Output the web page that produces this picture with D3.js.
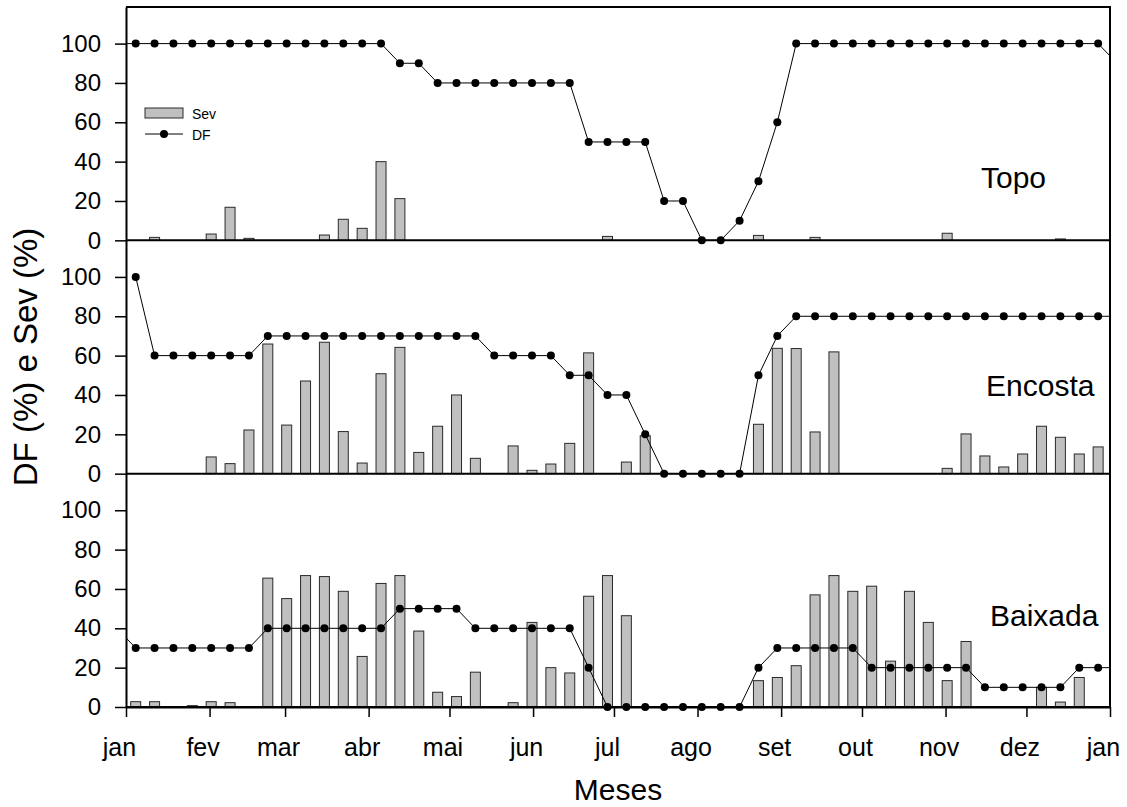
<!DOCTYPE html>
<html>
<head>
<meta charset="utf-8">
<script src="https://cdn.jsdelivr.net/npm/d3@7"></script>
<style>
body { margin: 0; background: #fff; }
text { font-family: "Liberation Sans", Arial, sans-serif; fill: #000; }
</style>
</head>
<body>
<div id="chart"></div>
<script>
// month ticks (day of year) and labels
var meses = ["jan","fev","mar","abr","mai","jun","jul","ago","set","out","nov","dez","jan"];
var diasMes = [0,31,59,90,120,151,181,212,243,273,304,334,365];
var yTicks = [0,20,40,60,80,100];

// weekly evaluations (day of year); first and last fall outside the year
var dias = [-3.4,3.6,10.6,17.6,24.6,31.6,38.6,45.6,52.6,59.6,66.6,73.6,80.6,87.6,94.6,101.6,
  108.6,115.6,122.6,129.6,136.6,143.6,150.6,157.6,164.6,171.6,178.6,185.6,192.6,199.6,206.6,
  213.6,220.6,227.6,234.6,241.6,248.6,255.6,262.6,269.6,276.6,283.6,290.6,297.6,304.6,311.6,
  318.6,325.6,332.6,339.6,346.6,353.6,360.6,367.6];

var dfTopo = [100,100,100,100,100,100,100,100,100,100,100,100,100,100,100,90,90,80,80,80,80,80,80,80,80,
  50,50,50,50,20,20,0,0,10,30,60,100,100,100,100,100,100,100,100,100,100,100,100,100,100,100,100,100,90];
var sevTopo = [null,0,1.5,0,0,3.2,16.8,1,0,0,0,2.7,10.7,6.1,40,21.2,0,0,0,0,0,0,0,0,0,0,2,0,0,0,0,0,0,0,2.5,
  0,0,1.5,0,0,0,0,0,0,3.6,0,0,0,0,0,0.7,0,0,null];

var dfEncosta = [null,100,60,60,60,60,60,60,70,70,70,70,70,70,70,70,70,70,70,70,60,60,60,60,50,50,40,40,20,
  0,0,0,0,0,50,70,80,80,80,80,80,80,80,80,80,80,80,80,80,80,80,80,80,80];
var sevEncosta = [null,0,0,0,0,8.5,5.1,22.2,65.9,24.7,47.1,66.8,21.4,5.4,50.8,64.2,10.8,24.1,40,7.8,0,14.1,
  1.7,4.9,15.4,61.4,0,5.9,19.3,0,0,0,0,0,25.1,63.7,63.6,21.2,61.9,0,0,0,0,0,2.7,20.2,9,3.4,10,24.1,18.5,10,13.6,null];

var dfBaixada = [40,30,30,30,30,30,30,30,40,40,40,40,40,40,40,50,50,50,50,40,40,40,40,40,40,20,0,0,0,0,0,0,0,0,
  20,30,30,30,30,30,20,20,20,20,20,20,10,10,10,10,10,20,20,20];
var sevBaixada = [null,2.7,2.7,0,0.7,2.7,2.2,0,65.5,55.1,66.8,66.3,58.8,25.7,62.8,66.8,38.6,7.5,5.3,17.7,0,2.2,
  43,20,17.3,56.3,66.8,46.4,0,0,0,0,0,0,13.4,15,21,57,66.8,58.8,61.4,23.3,58.8,43,13.4,33.3,0,0,0,10,2.5,15,0,null];

var margin = {top: 7, right: 17, bottom: 100, left: 126},
    width = 984,
    height = 700,
    panelH = height / 3;

var root = d3.select("#chart")
  .append("svg")
    .attr("width", 1127)
    .attr("height", 807);

var svg = root.append("g")
    .attr("transform", "translate(" + margin.left + "," + margin.top + ")");

svg.append("defs").append("clipPath").attr("id", "clip")
  .append("rect")
    .attr("x", 0).attr("y", -5)
    .attr("width", width).attr("height", height + 10);

var x = d3.scaleLinear()
    .domain([0, 365])
    .range([0, width]);

var paineis = [
  {nome: "Topo", df: dfTopo, sev: sevTopo, lx: 855, ly: 181},
  {nome: "Encosta", df: dfEncosta, sev: sevEncosta, lx: 860, ly: 389},
  {nome: "Baixada", df: dfBaixada, sev: sevBaixada, lx: 864, ly: 619}
];

paineis.forEach(function(p, k) {
  var g = svg.append("g")
      .attr("transform", "translate(0," + (k * panelH) + ")");

  var y = d3.scaleLinear()
      .domain([0, 118.6])
      .range([panelH, 0]);

  // Sev bars
  var barras = dias.map(function(d, i) { return [d, p.sev[i]]; })
      .filter(function(d) { return d[1] > 0; });

  g.selectAll("rect.sev")
    .data(barras)
    .enter()
    .append("rect")
      .attr("class", "sev")
      .attr("x", function(d) { return x(d[0]) - 5; })
      .attr("width", 10)
      .attr("y", function(d) { return y(d[1]); })
      .attr("height", function(d) { return y(0) - y(d[1]); })
      .attr("fill", "#c0c0c0")
      .attr("stroke", "#2a2a2a")
      .attr("stroke-width", 1);

  // Y axis
  var ax = g.append("g")
    .call(d3.axisLeft(y).tickValues(yTicks).tickSize(11).tickPadding(14).tickSizeOuter(0));
  ax.select(".domain").attr("stroke-width", 2);
  ax.selectAll(".tick line").attr("stroke-width", 1.5);
  ax.selectAll("text").style("font-size", "24px");

  // zero line
  g.append("line")
    .attr("x1", 0).attr("x2", width)
    .attr("y1", y(0)).attr("y2", y(0))
    .attr("stroke", "#000").attr("stroke-width", 2);

  // DF line
  var pts = dias.map(function(d, i) { return [d, p.df[i]]; });
  var linha = d3.line()
    .defined(function(d) { return d[1] != null; })
    .x(function(d) { return x(d[0]); })
    .y(function(d) { return y(d[1]); });

  g.append("path")
    .datum(pts)
    .attr("clip-path", "url(#clip)")
    .attr("fill", "none")
    .attr("stroke", "#000")
    .attr("stroke-width", 1)
    .attr("d", linha);

  g.selectAll("circle.df")
    .data(pts.filter(function(d) { return d[1] != null && d[0] >= 0 && d[0] <= 365; }))
    .enter()
    .append("circle")
      .attr("class", "df")
      .attr("cx", function(d) { return x(d[0]); })
      .attr("cy", function(d) { return y(d[1]); })
      .attr("r", 4)
      .attr("fill", "#000");

  svg.append("text")
    .attr("x", p.lx)
    .attr("y", p.ly)
    .style("font-size", "30px")
    .text(p.nome);
});

// frame: top and right
svg.append("line")
  .attr("x1", 0).attr("x2", width + 1).attr("y1", 0).attr("y2", 0)
  .attr("stroke", "#000").attr("stroke-width", 2);
svg.append("line")
  .attr("x1", width).attr("x2", width).attr("y1", 0).attr("y2", height)
  .attr("stroke", "#000").attr("stroke-width", 2);

// X axis
var xa = svg.append("g")
  .attr("transform", "translate(0," + height + ")")
  .call(d3.axisBottom(x)
    .tickValues(diasMes)
    .tickFormat(function(d, i) { return meses[i]; })
    .tickSize(10)
    .tickPadding(21)
    .tickSizeOuter(0));
xa.select(".domain").attr("stroke-width", 2);
xa.selectAll(".tick line").attr("stroke-width", 1.5);
xa.selectAll("text").style("font-size", "25px").attr("dx", -7);

// titles
root.append("text")
  .attr("transform", "translate(37,357)rotate(-90)")
  .attr("text-anchor", "middle")
  .style("font-size", "33px")
  .text("DF (%) e Sev (%)");

root.append("text")
  .attr("x", 618)
  .attr("y", 800)
  .attr("text-anchor", "middle")
  .style("font-size", "30px")
  .text("Meses");

// legend
var leg = root.append("g");
leg.append("rect")
  .attr("x", 145).attr("y", 108).attr("width", 38).attr("height", 10)
  .attr("fill", "#c0c0c0").attr("stroke", "#2a2a2a").attr("stroke-width", 1);
leg.append("text").attr("x", 192).attr("y", 119).style("font-size", "14px").text("Sev");
leg.append("line")
  .attr("x1", 145).attr("x2", 183).attr("y1", 134).attr("y2", 134)
  .attr("stroke", "#000").attr("stroke-width", 1);
leg.append("circle").attr("cx", 164).attr("cy", 134).attr("r", 4).attr("fill", "#000");
leg.append("text").attr("x", 192).attr("y", 139.5).style("font-size", "14px").text("DF");
</script>
</body>
</html>
